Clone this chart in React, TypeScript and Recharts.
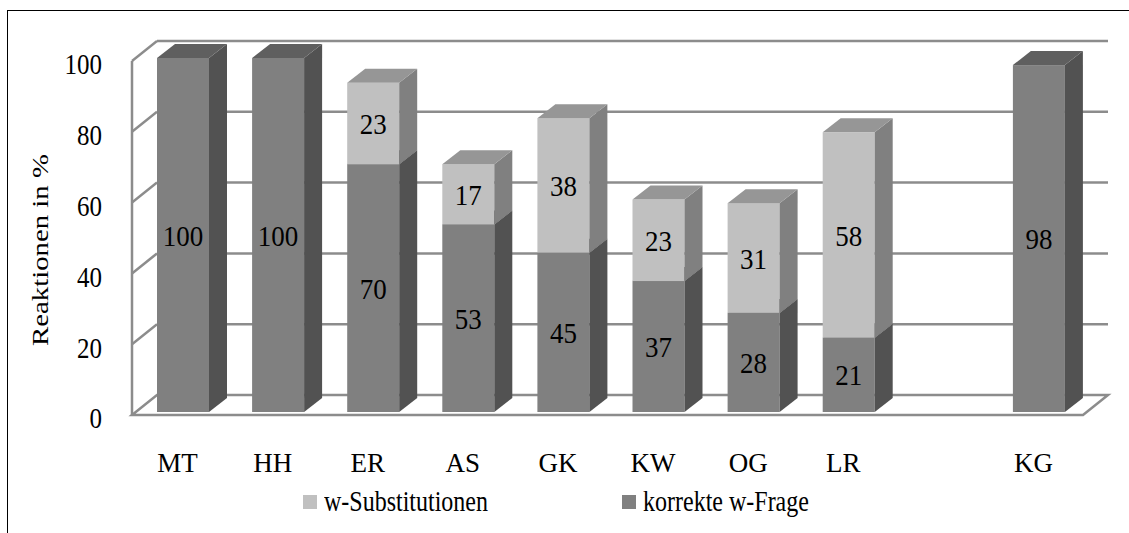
import React from 'react';
import { Bar, BarChart, CartesianGrid, LabelList, Legend, XAxis, YAxis } from 'recharts';

// Kategorien (leere Kategorie zwischen LR und KG als Abstand)
const categories = ['MT', 'HH', 'ER', 'AS', 'GK', 'KW', 'OG', 'LR', '', 'KG'];
const korrekteFrage = [100, 100, 70, 53, 45, 37, 28, 21, null, 98];
const substitutionen = [null, null, 23, 17, 38, 23, 31, 58, null, null];
const yTicks = [0, 20, 40, 60, 80, 100];

const legendLabels = ['w-Substitutionen', 'korrekte w-Frage'];
const legendColors = ['#c0c0c0', '#808080'];
const legendLeft = [303, 622];

const W = 1129;
const H = 533;
const PLOT_LEFT = 132;
const PLOT_TOP = 61;
const PLOT_BOTTOM = 415;
const PLOT_RIGHT = 1083;

const WALL = { dx: 25, dy: 20 };
const BAR_DEPTH = { dx: 18, dy: 14 };
const BAR_SHIFT = { dx: 3, dy: 3 };
const FONT = '"Liberation Serif", "Times New Roman", serif';
const GRID = '#8c8c8c';

const data = categories.map((name, i) => ({
  name,
  korrekte: korrekteFrage[i],
  subst: substitutionen[i],
}));

// Text, der wie im Original leicht vertikal gestreckt ist
const StretchText = ({ x, y, anchor, children, size = 24, stretch = 1.2 }: any) => (
  <text
    transform={`translate(${x},${y}) scale(1,${stretch})`}
    textAnchor={anchor}
    dominantBaseline="central"
    fontSize={size}
    fontFamily={FONT}
    fill="#000"
  >
    {children}
  </text>
);

const make3DBar = (front: string, side: string, top: string) => (props: any) => {
  const { x, y, width, height } = props;
  if (!height || height <= 0) return <g />;
  const fx = x + BAR_SHIFT.dx;
  const fy = y - BAR_SHIFT.dy;
  const { dx, dy } = BAR_DEPTH;
  return (
    <g>
      <rect x={fx} y={fy} width={width} height={height} fill={front} />
      <polygon
        points={`${fx + width},${fy} ${fx + width + dx},${fy - dy} ${fx + width + dx},${fy + height - dy} ${fx + width},${fy + height}`}
        fill={side}
      />
      <polygon
        points={`${fx},${fy} ${fx + dx},${fy - dy} ${fx + width + dx},${fy - dy} ${fx + width},${fy}`}
        fill={top}
      />
    </g>
  );
};

const renderLabel = (props: any) => {
  const { x, y, width, height, value } = props;
  if (value == null || !height) return <g />;
  return (
    <StretchText
      x={x + width / 2 + BAR_SHIFT.dx}
      y={y + height / 2 - BAR_SHIFT.dy}
      anchor="middle"
      size={27}
      stretch={1.12}
    >
      {value}
    </StretchText>
  );
};

const GridLine = (p: any) => {
  const { x1, y1, x2 } = p;
  const bx1 = x1 + WALL.dx;
  const bx2 = x2 + WALL.dx;
  const by = y1 - WALL.dy;
  if (Math.abs(y1 - PLOT_BOTTOM) < 1) {
    return (
      <g key={p.key}>
        <polygon
          points={`${x1},${y1} ${x2},${y1} ${bx2},${by} ${bx1},${by}`}
          fill="#fff"
          stroke={GRID}
          strokeWidth={2.5}
        />
      </g>
    );
  }
  return (
    <g key={p.key}>
      <line x1={bx1} y1={by} x2={bx2} y2={by} stroke={GRID} strokeWidth={2.5} />
      <line x1={x1} y1={y1} x2={bx1} y2={by} stroke={GRID} strokeWidth={2.5} />
    </g>
  );
};

const XTick = ({ x, payload }: any) => (
  <StretchText x={x - 2} y={PLOT_BOTTOM + 47} anchor="middle" size={27} stretch={1.05}>
    {payload.value}
  </StretchText>
);

const YTick = ({ y, payload }: any) => (
  <StretchText x={PLOT_LEFT - 30} y={y + 3} anchor="end" size={25} stretch={1.2}>
    {payload.value}
  </StretchText>
);

const LegendContent = () => (
  <div style={{ position: 'relative', width: W, height: 28 }}>
    {legendLabels.map((label, i) => (
      <div
        key={label}
        style={{
          position: 'absolute',
          left: legendLeft[i],
          top: 0,
          height: 28,
          display: 'flex',
          alignItems: 'center',
        }}
      >
        <span style={{ width: 14, height: 14, background: legendColors[i], marginRight: 7 }} />
        <span
          style={{
            fontFamily: FONT,
            fontSize: 24,
            color: '#000',
            display: 'inline-block',
            transform: 'scaleY(1.2)',
            whiteSpace: 'nowrap',
          }}
        >
          {label}
        </span>
      </div>
    ))}
  </div>
);

export default function App() {
  return (
    <div style={{ position: 'absolute', left: 0, top: 0, width: W, height: H, background: '#fff' }}>
      <div
        style={{
          position: 'absolute',
          left: 7,
          top: 10,
          width: W - 7,
          height: H - 10,
          boxSizing: 'border-box',
          borderTop: '1.5px solid #000',
          borderLeft: '1.5px solid #000',
        }}
      />
      <div style={{ position: 'absolute', left: 0, top: 0 }}>
        <BarChart
          width={W}
          height={H}
          data={data}
          margin={{ top: PLOT_TOP, right: W - PLOT_RIGHT, left: PLOT_LEFT - 100, bottom: H - PLOT_BOTTOM - 60 }}
          barSize={52}
        >
          <CartesianGrid vertical={false} horizontal={(p: any) => <GridLine {...p} />} />
          <XAxis dataKey="name" axisLine={false} tickLine={false} height={60} interval={0} tick={<XTick />} />
          <YAxis
            width={100}
            domain={[0, 100]}
            ticks={yTicks}
            tickLine={false}
            axisLine={{ stroke: GRID, strokeWidth: 2.5 }}
            tick={<YTick />}
          />
          <Legend
            verticalAlign="middle"
            layout="horizontal"
            wrapperStyle={{ top: 488, left: 0, width: W }}
            content={() => <LegendContent />}
          />
          <Bar
            dataKey="korrekte"
            stackId="a"
            name="korrekte w-Frage"
            fill="#808080"
            isAnimationActive={false}
            shape={make3DBar('#808080', '#525252', '#5f5f5f')}
          >
            <LabelList dataKey="korrekte" content={renderLabel} />
          </Bar>
          <Bar
            dataKey="subst"
            stackId="a"
            name="w-Substitutionen"
            fill="#c0c0c0"
            isAnimationActive={false}
            shape={make3DBar('#c0c0c0', '#808080', '#969696')}
          >
            <LabelList dataKey="subst" content={renderLabel} />
          </Bar>
          <text
            transform="translate(40,250) scale(1,1.2) rotate(-90)"
            textAnchor="middle"
            dominantBaseline="central"
            fontSize={24}
            fontFamily={FONT}
            fill="#000"
          >
            Reaktionen in %
          </text>
        </BarChart>
      </div>
    </div>
  );
}
